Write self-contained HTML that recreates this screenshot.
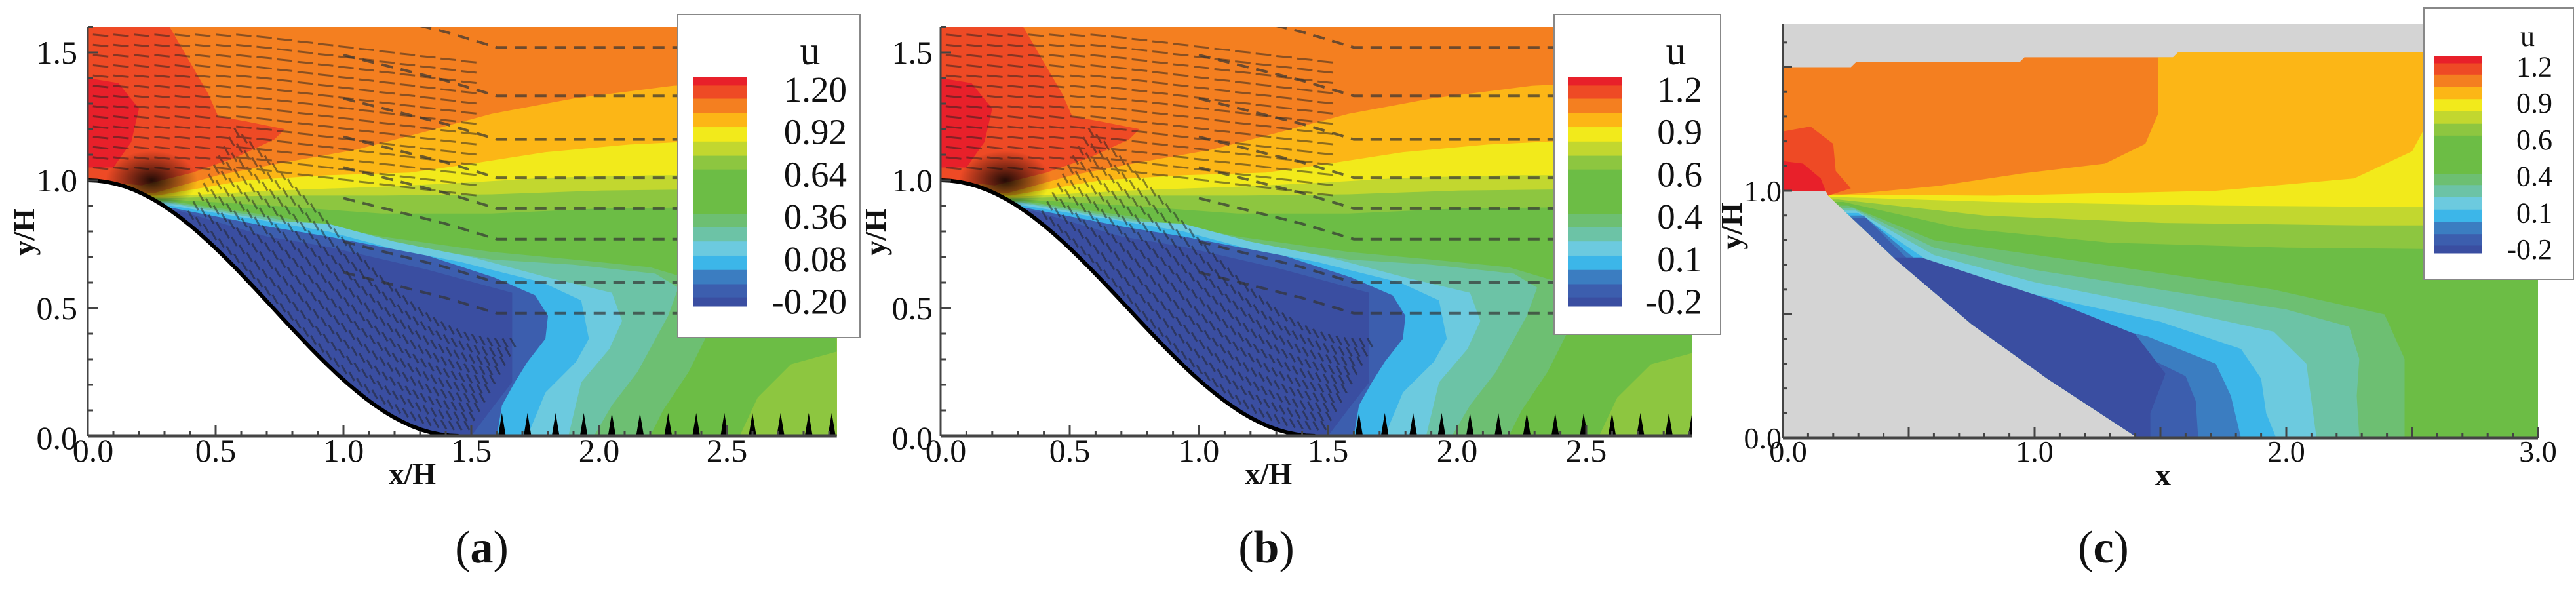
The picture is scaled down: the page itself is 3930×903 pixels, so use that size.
<!DOCTYPE html>
<html><head><meta charset="utf-8">
<style>
html,body{margin:0;padding:0;background:#fff;}
svg{display:block;}
text{font-family:"Liberation Serif",serif;fill:#111;}
</style></head>
<body>
<svg id="fig" width="3930" height="903" viewBox="0 0 3930 903" xmlns="http://www.w3.org/2000/svg">
  <defs>
    <clipPath id="clipA"><rect x="134" y="41" width="1143" height="624"/></clipPath>
    <clipPath id="clipB"><rect x="1435" y="41" width="1147" height="624"/></clipPath>
    <radialGradient id="crestGrad"><stop offset="0" stop-color="#000" stop-opacity="0.85"/><stop offset="1" stop-color="#000" stop-opacity="0"/></radialGradient>
  </defs>
  <g id="panelA"></g>
  <g id="panelB"></g>
  <g id="panelC"></g>
  <text x="735" y="858" font-size="70" text-anchor="middle">(<tspan font-weight="bold">a</tspan>)</text>
  <text x="1932" y="858" font-size="70" text-anchor="middle">(<tspan font-weight="bold">b</tspan>)</text>
  <text x="3209" y="858" font-size="70" text-anchor="middle">(<tspan font-weight="bold">c</tspan>)</text>
</svg>
<script>
const NS="http://www.w3.org/2000/svg";
const COL={red:'#e8202a',redor:'#ee4a25',orange:'#f47f20',gold:'#fcb616',yellow:'#f2ea1b',yg:'#c2d72f',lg:'#8dc640',green:'#6cbd45',tg:'#6dbf72',teal:'#6cc3a6',ltc:'#6ccadf',sky:'#3cb6e9',blue:'#3b7dc1',dblue:'#3c5eae',navy:'#3a4ea1'};

// ---- panel a/b contour boundaries (data units x/H, y/H) ----
const abGold=[[0.26,0.95],[0.51,1.02],[0.77,1.07],[1.05,1.12],[1.32,1.19],[1.58,1.26],[1.90,1.32],[2.29,1.37],[2.93,1.40]];
const abYellow=[[0.27,0.94],[0.62,1.00],[0.94,1.02],[1.26,1.03],[1.47,1.06],[1.79,1.11],[2.12,1.14],[2.33,1.15],[2.93,1.15]];
const abYG=[[0.28,0.935],[0.73,0.96],[1.15,0.975],[1.47,0.99],[1.79,1.01],[2.22,1.02],[2.93,1.02]];
const abLG=[[0.29,0.93],[0.73,0.94],[1.15,0.94],[1.58,0.945],[2.01,0.96],[2.93,0.97]];
const abGreen=[[0.30,0.926],[0.73,0.90],[1.15,0.87],[1.58,0.87],[2.01,0.89],[2.93,0.90]];
const abLGPatch=[[2.55,0],[2.62,0.15],[2.75,0.28],[2.93,0.33],[2.93,0]];
const abTG=[[0.31,0.92],[0.73,0.86],[1.15,0.78],[1.58,0.72],[1.9,0.69],[2.2,0.66],[2.4,0.6],[2.45,0.45],[2.35,0.25],[2.25,0.1],[2.2,0]];
const abTeal=[[0.31,0.915],[0.73,0.85],[1.15,0.76],[1.58,0.69],[1.90,0.67],[2.22,0.635],[2.31,0.58],[2.27,0.47],[2.15,0.25],[2.05,0.12],[1.98,0]];
const abLtc=[[0.32,0.91],[0.73,0.84],[0.94,0.83],[1.2,0.76],[1.5,0.70],[1.8,0.62],[2.05,0.56],[2.09,0.45],[2.04,0.34],[1.93,0.21],[1.88,0]];
const abSky=[[0.33,0.90],[0.7,0.84],[0.94,0.80],[1.2,0.73],[1.46,0.68],[1.78,0.60],[1.93,0.53],[1.96,0.38],[1.91,0.29],[1.79,0.17],[1.72,0]];
const abDblue=[[0.34,0.89],[0.7,0.82],[0.94,0.78],[1.33,0.705],[1.59,0.62],[1.75,0.55],[1.80,0.47],[1.79,0.38],[1.72,0.29],[1.67,0.21],[1.62,0.12],[1.60,0]];
const abNavy=[[0.36,0.88],[0.7,0.78],[0.94,0.74],[1.33,0.65],[1.66,0.56],[1.66,0.21],[1.59,0.12],[1.50,0]];
const abRedOr=[[0,1.6],[0.32,1.6],[0.47,1.34],[0.51,1.25],[0.62,1.23],[0.77,1.20],[0.73,1.16],[0.58,1.09],[0.41,1.03],[0.21,0.98],[0,1.0]];
const abRed=[[0,1.05],[0.1,1.05],[0.17,1.15],[0.2,1.28],[0.12,1.38],[0,1.4]];
const abStreamY=[1.52,1.33,1.16,1.01,0.89,0.77,0.60,0.48];
const abSpikeX=[1.62,1.72,1.83,1.94,2.05,2.16,2.27,2.38,2.49,2.60,2.71,2.82,2.91];

// ---- panel c contour boundaries (data units) ----
const cTop=[[0,1.50],[0.27,1.50],[0.29,1.52],[0.94,1.52],[0.96,1.54],[1.55,1.54],[1.57,1.56],[3.0,1.56]];
const cHill=[[0.18,0.98],[0.45,0.72],[0.75,0.46],[1.05,0.24],[1.41,0]];
const cGold=[[0.18,0.98],[0.31,0.99],[0.62,1.02],[0.95,1.07],[1.28,1.11],[1.44,1.19],[1.49,1.31],[1.49,1.60]];
const cYellow=[[0.2,0.985],[0.84,0.98],[1.72,1.0],[2.27,1.05],[2.5,1.16],[2.58,1.31],[2.61,1.47],[2.63,1.60]];
const cYG=[[0.2,0.975],[0.84,0.955],[1.72,0.94],[2.4,0.935],[3.0,0.94]];
const cLG=[[0.22,0.965],[0.8,0.9],[1.5,0.87],[2.3,0.86],[3.0,0.86]];
const cGreen=[[0.24,0.955],[0.7,0.85],[1.3,0.79],[2.0,0.77],[3.0,0.76]];
const cTG=[[0.26,0.94],[0.6,0.8],[1.28,0.7],[1.95,0.6],[2.39,0.5],[2.47,0.32],[2.47,0.09],[2.47,0]];
const cTeal=[[0.28,0.93],[0.6,0.77],[1.0,0.68],[1.5,0.6],[2.0,0.52],[2.25,0.45],[2.29,0.32],[2.28,0.17],[2.29,0]];
const cLtc=[[0.29,0.92],[0.6,0.74],[1.0,0.63],[1.5,0.53],[1.95,0.43],[2.08,0.3],[2.10,0.15],[2.12,0]];
const cSky=[[0.30,0.91],[0.6,0.70],[1.0,0.58],[1.5,0.47],[1.82,0.36],[1.9,0.24],[1.92,0.1],[1.96,0]];
const cBlue=[[0.32,0.90],[0.6,0.66],[1.0,0.52],[1.45,0.41],[1.72,0.3],[1.78,0.17],[1.82,0]];
const cDblue=[[0.33,0.89],[0.6,0.62],[1.0,0.47],[1.4,0.35],[1.60,0.25],[1.64,0.15],[1.65,0]];
const cNavy=[[0.55,0.73],[1.06,0.56],[1.4,0.42],[1.52,0.26],[1.46,0.1],[1.46,0]];
const cRedOr=[[0,1.24],[0.11,1.26],[0.2,1.19],[0.21,1.08],[0.27,1.01],[0.18,0.98],[0,1.0]];
const cRed=[[0,1.12],[0.08,1.11],[0.15,1.05],[0.17,1.0],[0,1.0]];

// ---- colorbars ----
const barColors=['red','redor','orange','gold','yellow','yg','lg','green','green','green','tg','teal','ltc','sky','blue','dblue','navy'];
const barEdges=[55,95,155,220,285,350,415,478,540,610,680,740,805,870,935,1000,1060,1100];
const labelsA=['1.20','0.92','0.64','0.36','0.08','-0.20'];
const labelsB=['1.2','0.9','0.6','0.4','0.1','-0.2'];
const labelsC=['1.2','0.9','0.6','0.4','0.1','-0.2'];

function el(tag,attrs,parent){const e=document.createElementNS(NS,tag);for(const k in attrs)e.setAttribute(k,attrs[k]);parent.appendChild(e);return e;}
function mkAxis(x0,kx,y0,ky){return {sx:v=>x0+v*kx,sy:v=>y0-v*ky};}
function pts(ax,arr){return arr.map(p=>ax.sx(p[0]).toFixed(1)+','+ax.sy(p[1]).toFixed(1)).join(' ');}
function bandBelow(g,ax,arr,color,name,xmin){
  const a=arr.slice();const last=a[a.length-1];
  if(last[1]>0)a.push([last[0],0]);
  a.push([xmin,0]);a.push([xmin,a[0][1]]);
  const p=el('polygon',{points:pts(ax,a),fill:COL[color]},g);
  
  
}
function closed(g,ax,arr,color,name){
  const p=el('polygon',{points:pts(ax,arr),fill:COL[color]},g);
  
  
}

function colorbar(g,x,y0,y1,w,labels,lx,fs,ux,uy,ufs,box){
  const lb=el('rect',{x:box[0],y:box[1],width:box[2],height:box[3],fill:'#fff',stroke:'#888','stroke-width':2},g);
  
  
  const k=(y1-y0)/(barEdges[barEdges.length-1]-barEdges[0]);
  barColors.forEach((c,i)=>{
    const r=el('rect',{x:x,y:y0+(barEdges[i]-barEdges[0])*k,width:w,height:(barEdges[i+1]-barEdges[i])*k+0.5,fill:COL[c]},g);
    
    
  });
  const t=el('text',{x:ux,y:uy,'font-size':ufs,'text-anchor':'middle'},g);t.textContent='u';
  
  
  labels.forEach((s,i)=>{
    const yy=y0+(y1-y0)*(0.055+i*0.185);
    const tt=el('text',{x:lx,y:yy+fs*0.34,'font-size':fs,'text-anchor':'end'},g);tt.textContent=s;
    
    
  });
}

function hillPts(){const a=[];for(let i=0;i<=40;i++){const x=1.45*i/40;a.push([x,0.5*(1+Math.cos(Math.PI*x/1.45))]);}return a;}

function panelAB(id,clip,x0,kx,xmax,labels,lbX,legBox,cbX,lblX,uX,ylabX,ylabR){
  const g=document.getElementById(id);
  const ax=mkAxis(x0,kx,665,390);
  const cg=el('g',{'clip-path':'url(#'+clip+')'},g);
  const base=el('rect',{x:ax.sx(0),y:ax.sy(1.6),width:xmax*kx,height:1.6*390,fill:COL.orange},cg);
  
  
  bandBelow(cg,ax,abGold,'gold','band-gold',0);
  bandBelow(cg,ax,abYellow,'yellow','band-yellow',0);
  bandBelow(cg,ax,abYG,'yg','band-yellow-green',0);
  bandBelow(cg,ax,abLG,'lg','band-light-green',0);
  bandBelow(cg,ax,abGreen,'green','band-green',0);
  closed(cg,ax,abLGPatch,'lg','band-light-green-patch');
  bandBelow(cg,ax,abTG,'tg','band-teal-green',0);
  bandBelow(cg,ax,abTeal,'teal','band-teal',0);
  bandBelow(cg,ax,abLtc,'ltc','band-light-cyan',0);
  bandBelow(cg,ax,abSky,'sky','band-sky',0);
  bandBelow(cg,ax,abDblue,'dblue','band-blue',0);
  bandBelow(cg,ax,abNavy,'navy','band-navy',0);
  closed(cg,ax,abRedOr,'redor','band-red-orange');
  closed(cg,ax,abRed,'red','band-red');
  // vector texture
  const vg=el('g',{stroke:'#222','stroke-width':3,opacity:0.5},cg);
  
  
  for(let y=1.05;y<1.6;y+=0.04){for(let x=0.02;x<1.5;x+=0.08){
    const off=(x>0.6)?(x-0.6)*0.12:0;
    el('line',{x1:ax.sx(x),y1:ax.sy(y-off),x2:ax.sx(x+0.06),y2:ax.sy(y-off-0.006)},vg);}}
  for(let x=0.4;x<1.5;x+=0.03){for(let t=0.05;t<0.8;t+=0.08){
    const hy=0.5*(1+Math.cos(Math.PI*x/1.45));
    el('line',{x1:ax.sx(x+t*0.25),y1:ax.sy(hy+t*0.45),x2:ax.sx(x+t*0.25-0.02),y2:ax.sy(hy+t*0.45+0.035)},vg);}}
  // streamlines
  abStreamY.forEach(yv=>{
    const s=el('polyline',{points:pts(ax,[[1.0,yv+0.16],[1.4,yv+0.06],[1.6,yv],[xmax,yv]]),fill:'none',stroke:'#333','stroke-width':4,'stroke-dasharray':'18 12',opacity:0.7},cg);
    
    
  });
  abSpikeX.forEach(xv=>{
    const s=el('polygon',{points:pts(ax,[[xv-0.015,0],[xv,0.09],[xv+0.015,0]]),fill:'#000'},cg);
    
    
  });
  const blob=el('ellipse',{cx:ax.sx(0.25),cy:ax.sy(1.0),rx:70,ry:45,fill:'url(#crestGrad)'},cg);
  
  
  // hill
  const hp=hillPts();
  const hill=el('polygon',{points:pts(ax,[[0,1.0]].concat(hp).concat([[0,0]])),fill:'#fff'},cg);
  
  
  const hl=el('polyline',{points:pts(ax,hp),fill:'none',stroke:'#000','stroke-width':6},cg);
  
  
  // axes
  const axg=el('g',{stroke:'#444','stroke-width':3},g);
  
  
  el('line',{x1:ax.sx(0),y1:ax.sy(0),x2:ax.sx(xmax),y2:ax.sy(0),'stroke-width':5},axg);
  el('line',{x1:ax.sx(0),y1:ax.sy(0),x2:ax.sx(0),y2:ax.sy(1.6)},axg);
  for(let i=0;i<=29;i++){const v=i/10;if(v>xmax)break;const L=(i%5==0)?16:8;el('line',{x1:ax.sx(v),y1:ax.sy(0),x2:ax.sx(v),y2:ax.sy(0)-L},axg);}
  for(let i=0;i<=16;i++){const v=i/10;const L=(i%5==0)?16:8;el('line',{x1:ax.sx(0),y1:ax.sy(v),x2:ax.sx(0)+L,y2:ax.sy(v)},axg);}
  ['0.0','0.5','1.0','1.5','2.0','2.5'].forEach((s,i)=>{
    const t=el('text',{x:ax.sx(i*0.5)+(i==0?8:0),y:704,'font-size':50,'text-anchor':'middle'},g);t.textContent=s;
    
    
  });
  ['0.0','0.5','1.0','1.5'].forEach((s,i)=>{
    const t=el('text',{x:ylabR,y:ax.sy(i*0.5)+(i==0?20:17),'font-size':50,'text-anchor':'end'},g);t.textContent=s;
    
    
  });
  const xt=el('text',{x:ax.sx(1.27),y:738,'font-size':46,'font-weight':'bold','text-anchor':'middle'},g);xt.textContent='x/H';
  
  
  const yt=el('text',{x:ylabX,y:354,'font-size':46,'font-weight':'bold','text-anchor':'middle',transform:'rotate(-90 '+ylabX+' 354)'},g);yt.textContent='y/H';
  
  
  const lg=el('g',{},g);
  
  
  colorbar(lg,cbX,117,467,82,labels,lblX,55,uX,98,62,legBox);
}
panelAB('panelA','clipA',134,390,2.93,labelsA,0,[1034,22,278,493],1057,1292,1236,52,118);
panelAB('panelB','clipB',1435,394,2.91,labelsB,0,[2371,22,254,488],2392,2597,2557,1351,1423);

// panel c
(function(){
  const g=document.getElementById('panelC');
  const ax=mkAxis(2720,384,668,377);
  const bg=el('rect',{x:2720,y:36,width:3*384,height:632,fill:'#d4d4d4'},g);
  
  
  const dom=[[0,1.0]].concat(cTop).concat([[3.0,0]]).concat(cHill.slice().reverse()).concat([[0.17,1.0]]);
  const cp=el('clipPath',{id:'clipC'},document.querySelector('defs'));
  el('polygon',{points:pts(ax,dom)},cp);
  const cg=el('g',{'clip-path':'url(#clipC)'},g);
  const base=el('rect',{x:2720,y:36,width:3*384,height:632,fill:COL.orange},cg);
  
  
  const gold=cGold.concat([[3.0,1.6],[3.0,0],[0,0]]);
  closed(cg,ax,gold,'gold','band-gold');
  bandBelow(cg,ax,cYellow.concat([[3.0,1.6]]),'yellow','band-yellow',0);
  bandBelow(cg,ax,cYG,'yg','band-yellow-green',0);
  bandBelow(cg,ax,cLG,'lg','band-light-green',0);
  bandBelow(cg,ax,cGreen,'green','band-green',0);
  bandBelow(cg,ax,cTG,'tg','band-teal-green',0);
  bandBelow(cg,ax,cTeal,'teal','band-teal',0);
  bandBelow(cg,ax,cLtc,'ltc','band-light-cyan',0);
  bandBelow(cg,ax,cSky,'sky','band-sky',0);
  bandBelow(cg,ax,cBlue,'blue','band-blue',0);
  bandBelow(cg,ax,cDblue,'dblue','band-dark-blue',0);
  bandBelow(cg,ax,cNavy,'navy','band-navy',0);
  closed(cg,ax,cRedOr,'redor','band-red-orange');
  closed(cg,ax,cRed,'red','band-red');
  const axg=el('g',{stroke:'#444','stroke-width':3},g);
  
  
  el('line',{x1:2720,y1:668,x2:ax.sx(3.0),y2:668,'stroke-width':5},axg);
  el('line',{x1:2720,y1:668,x2:2720,y2:36},axg);
  for(let i=0;i<=30;i++){const v=i/10;const L=(i%5==0)?16:7;el('line',{x1:ax.sx(v),y1:668,x2:ax.sx(v),y2:668-L},axg);}
  for(let i=0;i<=16;i++){const v=i/10;const L=(i%5==0)?14:6;el('line',{x1:2720,y1:ax.sy(v),x2:2720+L,y2:ax.sy(v)},axg);}
  ['0.0','1.0','2.0','3.0'].forEach((s,i)=>{
    const t=el('text',{x:ax.sx(i)+(i==0?8:0),y:704,'font-size':46,'text-anchor':'middle'},g);t.textContent=s;
    
    
  });
  [['0.0',0],['1.0',1]].forEach(p=>{
    const t=el('text',{x:2718,y:ax.sy(p[1])+16,'font-size':46,'text-anchor':'end'},g);t.textContent=p[0];
    
    
  });
  const xt=el('text',{x:3300,y:740,'font-size':48,'font-weight':'bold','text-anchor':'middle'},g);xt.textContent='x';
  
  
  const yt=el('text',{x:2657,y:345,'font-size':46,'font-weight':'bold','text-anchor':'middle',transform:'rotate(-90 2657 345)'},g);yt.textContent='y/H';
  
  
  const lg=el('g',{},g);
  
  
  colorbar(lg,3714,85,386,72,labelsC,3894,44,3856,70,44,[3698,12,228,414]);
})();
</script>
</body></html>
